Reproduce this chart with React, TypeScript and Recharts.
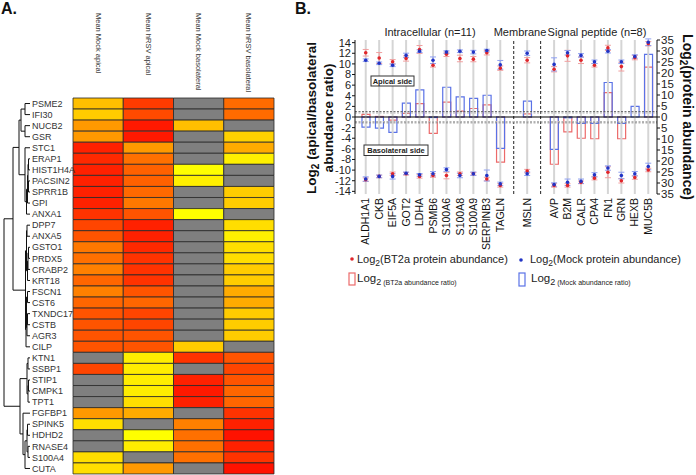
import React from 'react';
import {
  BarChart,
  Bar,
  Cell,
  XAxis,
  YAxis,
  ScatterChart,
  Scatter,
  ComposedChart,
  Line,
  ErrorBar,
  ReferenceLine,
} from 'recharts';

const FONT = '"Liberation Sans", Arial, Helvetica, sans-serif';

// ---------- Panel A: heat map ----------
const genes = [
  'PSME2', 'IFI30', 'NUCB2', 'GSR', 'STC1', 'ERAP1', 'HIST1H4A', 'PACSIN2', 'SPRR1B', 'GPI', 'ANXA1',
  'DPP7', 'ANXA5', 'GSTO1', 'PRDX5', 'CRABP2', 'KRT18', 'FSCN1', 'CST6', 'TXNDC17', 'CSTB', 'AGR3', 'CILP',
  'KTN1', 'SSBP1', 'STIP1', 'CMPK1', 'TPT1', 'FGFBP1', 'SPINK5', 'HDHD2', 'RNASE4', 'S100A4', 'CUTA',
];
const heatColumns = ['Mean Mock apical', 'Mean hRSV apical', 'Mean Mock basolateral', 'Mean hRSV basolateral'];

// heat level 0 (yellow) .. 10 (red), null = not detected (grey)
const mockApical = [2.5, 2, 4, 4, 8.7, 8.4, 8.7, 8.7, 8.7, 8.7, 8, 7.3, 6.7, 5.3, 5.6, 5, 6, 5, 6, 6.7, 6.7, 6.7, 6.7, null, 7.3, null, null, null, 4, 1.3, null, null, 1.3, 1.3];
const hrsvApical = [7.7, 7.1, 9, 9, 4, 5.6, 6.2, 6.2, 5.9, 5.3, 6.7, 8.7, 8.7, 8.4, 8, 8, 8, 6.7, 6, 7.3, 7.3, 6.7, 6.7, 0.7, 0.7, 0.7, 0.7, 1.3, 3.3, null, 0, 0.7, null, 4];
const mockBasolateral = [null, null, 2.5, null, null, null, 0, 0.6, null, null, 0, null, null, null, null, null, null, null, null, null, null, null, 2, 8, null, 8.7, 9, 8.7, null, 5, 5.6, 5.6, 5.6, null];
const hrsvBasolateral = [5.8, 5.8, null, 1.8, 3.3, 0.6, null, null, 2, 2, null, 1.3, 0.6, 1.3, 1.3, 2, 2, 3.3, 3.3, 2, 2, 2, null, 6.7, 7.3, 6.7, 6, 6, 8, 8.7, 9.3, 8.7, 8, 9.3];

// dendrogram joins: [a, b, x]; ids < 34 are rows, 34 + k is join k
const merges: [number, number, number][] = [
  [0, 1, 25], [2, 3, 25], [34, 35, 21],
  [5, 6, 28.5], [7, 8, 28.5], [37, 38, 28], [39, 9, 27.5], [40, 10, 26.5], [4, 41, 25], [36, 42, 19],
  [11, 12, 27], [13, 14, 28.5], [45, 15, 28], [46, 16, 27.5], [44, 47, 26.5],
  [17, 18, 27.5], [19, 20, 27.5], [50, 21, 27], [49, 51, 26.5], [52, 22, 26], [48, 53, 25.5], [43, 54, 13],
  [23, 24, 28], [25, 26, 28.5], [57, 27, 28], [56, 58, 27],
  [29, 30, 27.5], [31, 32, 28], [60, 61, 27], [62, 33, 25], [28, 63, 23], [59, 64, 20],
  [55, 65, 4],
];

// ---------- Panel B ----------
const intracellular = ['ALDH1A1', 'CKB', 'EIF5A', 'GOT2', 'LDHA', 'PSMB6', 'S100A6', 'S100A8', 'S100A9', 'SERPINB3', 'TAGLN'];
const membrane = ['MSLN'];
const signalPeptide = ['AVP', 'B2M', 'CALR', 'CPA4', 'FN1', 'GRN', 'HEXB', 'MUC5B'];

const bt2aRatio = [0.5, 0.1, -0.6, 0.7, 2.5, -3.1, 2.8, 1.1, 1.6, 2.3, -8.5, 0.6, -8.9, -2.8, -4.0, -4.1, 4.6, -4.1, 0, 9.4];
const mockRatio = [-1.9, -2.1, -2.9, 2.6, 5.1, -0.1, 5.6, 3.8, 3.5, 4.1, -5.9, 3.0, -6.1, -0.15, -1.2, -1.2, 6.5, -1.2, 2.0, 11.8];

const bt2aApicalAbund = [29.2, 26.8, 25.1, 26.6, 30.7, 23.5, 28.5, 26.6, 26.3, 29.2, 22.2, 25.8, 21.7, 27.8, 25.8, 23.5, 31.4, 22.9, 27.0, 33.3];
const mockApicalAbund = [25.8, 24.4, 23.5, 28.0, 29.9, 25.8, 29.5, 29.9, 29.5, 30.2, 23.7, 29.0, 23.9, 29.2, 28.0, 25.1, 29.9, 25.1, 27.5, 34.0];
const bt2aBasoAbund = [28.5, 27.0, 25.8, 25.8, 27.0, 26.6, 26.6, 25.8, 25.8, 28.2, 31.1, 24.6, 31.1, 31.1, 29.7, 27.8, 25.1, 29.0, 27.5, 24.1];
const mockBasoAbund = [28.2, 27.0, 27.0, 25.6, 26.3, 25.8, 23.9, 26.6, 25.8, 26.6, 30.4, 25.8, 30.7, 29.7, 29.2, 26.3, 23.2, 26.6, 25.8, 22.5];

const bt2aApicalErr = [1.5, 2.5, 1, 1.2, 1.8, 0.8, 1, 1.5, 1.2, 1, 1, 1.2, 1.2, 2.5, 1.5, 0.8, 1.2, 2, 1, 1];
const mockApicalErr = [0.6, 0.6, 0.6, 1, 0.6, 1.5, 0.6, 0.6, 0.8, 0.6, 2, 1, 3, 1, 0.8, 0.8, 0.8, 0.8, 0.8, 1.5];
const bt2aBasoErr = [0.8, 0.6, 0.8, 0.6, 0.8, 0.8, 1.5, 0.8, 0.6, 0.8, 0.8, 0.8, 0.8, 0.8, 0.6, 0.8, 2.5, 1, 0.8, 0.8];
const mockBasoErr = [1, 0.6, 1.2, 0.6, 0.6, 1, 0.8, 1, 0.8, 2.5, 0.8, 0.8, 0.8, 1.5, 1, 1, 1, 1.5, 1, 1.5];

const leftTicks = [-14, -12, -10, -8, -6, -4, -2, 0, 2, 4, 6, 8, 10, 12, 14];
const rightTicks = [-35, -30, -25, -20, -15, -10, -5, 0, 5, 10, 15, 20, 25, 30, 35];

const RED_BOX = '#ec6a6a';
const BLUE_BOX = '#5a72e6';
const RED_DOT = '#e0262b';
const BLUE_DOT = '#2234c4';

const heatColor = (v: number | null) =>
  v === null ? '#7f7f7f' : `rgb(255, ${Math.round(255 * (1 - v / 10))}, 0)`;

const heatValues = [mockApical, hrsvApical, mockBasolateral, hrsvBasolateral];
const heatRows = genes.map((gene) => ({ gene, c0: 1, c1: 1, c2: 1, c3: 1 }));

// dendrogram line pieces
const nodeY: number[] = genes.map((_, i) => i + 0.5);
const nodeX: number[] = genes.map(() => 30);
const dendroPieces = merges.map(([a, b, x]) => {
  const piece = [
    { x: nodeX[a], y: nodeY[a] },
    { x, y: nodeY[a] },
    { x, y: nodeY[b] },
    { x: nodeX[b], y: nodeY[b] },
  ];
  nodeX.push(x);
  nodeY.push((nodeY[a] + nodeY[b]) / 2);
  return piece;
});

// panel B table, a blank slot between the groups
const proteins = [...intracellular, ...membrane, ...signalPeptide];
const dividers: string[] = [];
const rowsB: any[] = [];
let n = 0;
[intracellular, membrane, signalPeptide].forEach((group, g) => {
  if (g > 0) {
    const key = `div${g}`;
    dividers.push(key);
    rowsB.push({ key });
  }
  group.forEach((name) => {
    const i = n++;
    rowsB.push({
      key: name,
      bt2aRatio: bt2aRatio[i],
      mockRatio: mockRatio[i],
      bt2aApical: bt2aApicalAbund[i],
      mockApical: mockApicalAbund[i],
      bt2aBaso: -bt2aBasoAbund[i],
      mockBaso: -mockBasoAbund[i],
      bt2aApicalErr: bt2aApicalErr[i],
      mockApicalErr: mockApicalErr[i],
      bt2aBasoErr: bt2aBasoErr[i],
      mockBasoErr: mockBasoErr[i],
    });
  });
});

const HeaderTick = (props: any) => {
  const { x, payload } = props;
  return (
    <text
      transform={`translate(${x},13) rotate(90)`}
      dy="0.35em"
      fontSize={7.5}
      fill="#333"
      fontFamily={FONT}
    >
      {heatColumns[Math.floor(payload.value)]}
    </text>
  );
};

const GeneTick = (props: any) => {
  const { y, payload } = props;
  return (
    <text x={32} y={y} dy="0.35em" textAnchor="start" fontSize={9} fill="#333" fontFamily={FONT}>
      {payload.value}
    </text>
  );
};

const ProteinTick = (props: any) => {
  const { x, y, payload } = props;
  if (!proteins.includes(payload.value)) return <g />;
  return (
    <text
      x={x}
      y={y}
      transform={`rotate(-90 ${x} ${y})`}
      textAnchor="end"
      dy="0.35em"
      fontSize={10.5}
      fill="#111"
      fontFamily={FONT}
    >
      {payload.value}
    </text>
  );
};

const dot = (color: string) => ({ r: 1.8, fill: color, stroke: 'none' });

export default function App() {
  return (
    <div
      style={{
        position: 'fixed',
        left: 0,
        top: 0,
        width: 696,
        height: 475,
        overflow: 'hidden',
        background: '#fff',
        fontFamily: FONT,
      }}
    >
      {/* heat map */}
      <div style={{ position: 'absolute', left: 0, top: 0 }}>
        <BarChart
          layout="vertical"
          width={276}
          height={475}
          data={heatRows}
          margin={{ top: 0, right: 2, bottom: 1, left: 0 }}
          barCategoryGap={0}
        >
          <XAxis
            type="number"
            domain={[0, 4]}
            orientation="top"
            ticks={[0.5, 1.5, 2.5, 3.5]}
            interval={0}
            height={98}
            axisLine={false}
            tickLine={false}
            tick={(p: any) => <HeaderTick {...p} />}
          />
          <YAxis
            type="category"
            dataKey="gene"
            width={73}
            interval={0}
            axisLine={false}
            tickLine={false}
            tick={(p: any) => <GeneTick {...p} />}
          />
          {heatValues.map((vals, c) => (
            <Bar
              key={c}
              dataKey={`c${c}`}
              stackId="heat"
              stroke="#2a2a2a"
              strokeWidth={0.8}
              isAnimationActive={false}
            >
              {vals.map((v, i) => (
                <Cell key={i} fill={heatColor(v)} />
              ))}
            </Bar>
          ))}
        </BarChart>
      </div>

      {/* dendrogram */}
      <div style={{ position: 'absolute', left: 0, top: 0 }}>
        <ScatterChart width={31} height={475} margin={{ top: 98, right: 0, bottom: 1, left: 0 }}>
          <XAxis type="number" dataKey="x" domain={[0, 31]} hide />
          <YAxis type="number" dataKey="y" domain={[0, genes.length]} reversed hide />
          {dendroPieces.map((piece, k) => (
            <Scatter
              key={k}
              data={piece}
              line={{ stroke: '#111', strokeWidth: 1 }}
              shape={() => <g />}
              isAnimationActive={false}
            />
          ))}
        </ScatterChart>
      </div>

      {/* panel B */}
      <div style={{ position: 'absolute', left: 325, top: 30 }}>
        <ComposedChart
          width={362}
          height={224}
          data={rowsB}
          margin={{ top: 10, right: 0, bottom: 0, left: 0 }}
          barGap={-8}
        >
          <XAxis
            dataKey="key"
            type="category"
            interval={0}
            axisLine={false}
            tickLine={false}
            tickSize={2}
            tickMargin={2}
            height={60}
            padding={{ left: 4, right: 2 }}
            tick={(p: any) => <ProteinTick {...p} />}
          />
          <YAxis
            yAxisId="left"
            domain={[-14.5, 14.5]}
            ticks={leftTicks}
            interval={0}
            allowDataOverflow
            width={30}
            stroke="#111"
            tickSize={3}
            tickMargin={1}
            tick={{ fontSize: 11, fill: '#222', fontFamily: FONT }}
          />
          <YAxis
            yAxisId="right"
            orientation="right"
            domain={[-35, 35]}
            ticks={rightTicks}
            interval={0}
            allowDataOverflow
            width={30}
            stroke="#111"
            tickSize={3}
            tickMargin={1}
            tickFormatter={(v: number) => String(Math.abs(v))}
            tick={{ fontSize: 11.5, fill: '#222', fontFamily: FONT }}
          />
          {proteins.map((p) => (
            <ReferenceLine key={p} x={p} yAxisId="left" stroke="#d5d5d5" strokeWidth={2} />
          ))}
          {dividers.map((d) => (
            <ReferenceLine key={d} x={d} yAxisId="left" stroke="#222" strokeDasharray="3 2" />
          ))}
          <ReferenceLine y={1} yAxisId="left" stroke="#555" strokeDasharray="2 1.5" />
          <ReferenceLine y={0.75} yAxisId="left" stroke="#b5b5b5" strokeDasharray="2 1.5" />
          <ReferenceLine y={-0.85} yAxisId="left" stroke="#b5b5b5" strokeDasharray="2 1.5" />
          <ReferenceLine y={-1.1} yAxisId="left" stroke="#888" strokeDasharray="2 1.5" />
          <ReferenceLine y={0} yAxisId="left" stroke="#000" strokeWidth={1.2} />
          <Bar
            yAxisId="left"
            dataKey="bt2aRatio"
            barSize={8}
            fill="none"
            stroke={RED_BOX}
            strokeWidth={1.2}
            isAnimationActive={false}
          />
          <Bar
            yAxisId="left"
            dataKey="mockRatio"
            barSize={8}
            fill="none"
            stroke={BLUE_BOX}
            strokeWidth={1.2}
            isAnimationActive={false}
          />
          <Line yAxisId="right" dataKey="bt2aApical" stroke="none" dot={dot(RED_DOT)} activeDot={false} isAnimationActive={false}>
            <ErrorBar dataKey="bt2aApicalErr" width={3} stroke="#f0a0a0" strokeWidth={1} direction="y" />
          </Line>
          <Line yAxisId="right" dataKey="mockApical" stroke="none" dot={dot(BLUE_DOT)} activeDot={false} isAnimationActive={false}>
            <ErrorBar dataKey="mockApicalErr" width={3} stroke="#8fa0f0" strokeWidth={1} direction="y" />
          </Line>
          <Line yAxisId="right" dataKey="bt2aBaso" stroke="none" dot={dot(RED_DOT)} activeDot={false} isAnimationActive={false}>
            <ErrorBar dataKey="bt2aBasoErr" width={3} stroke="#f0a0a0" strokeWidth={1} direction="y" />
          </Line>
          <Line yAxisId="right" dataKey="mockBaso" stroke="none" dot={dot(BLUE_DOT)} activeDot={false} isAnimationActive={false}>
            <ErrorBar dataKey="mockBasoErr" width={3} stroke="#8fa0f0" strokeWidth={1} direction="y" />
          </Line>
        </ComposedChart>
      </div>

      {/* labels, titles, legend */}
      <svg
        width={696}
        height={475}
        style={{ position: 'absolute', left: 0, top: 0, pointerEvents: 'none' }}
        fontFamily={FONT}
      >
        <text x={1} y={14} fontSize={16} fontWeight="bold" fill="#111">A.</text>
        <text x={295} y={14} fontSize={16} fontWeight="bold" fill="#111">B.</text>

        <text transform="translate(316,118) rotate(-90)" textAnchor="middle" fontSize={13.5} fontWeight="bold" fill="#111">
          Log<tspan dy={3} fontSize={10}>2</tspan>
          <tspan dy={-3}> (apical/basolateral</tspan>
        </text>
        <text transform="translate(333,118) rotate(-90)" textAnchor="middle" fontSize={13.5} fontWeight="bold" fill="#111">
          abundance ratio)
        </text>
        <text transform="translate(683,117) rotate(90)" textAnchor="middle" fontSize={14} fontWeight="bold" fill="#111">
          Log<tspan dy={3} fontSize={10}>2</tspan>
          <tspan dy={-3}>(protein abundance)</tspan>
        </text>

        <text x={430} y={36} textAnchor="middle" fontSize={11} fill="#222">Intracellular (n=11)</text>
        <text x={520} y={36} textAnchor="middle" fontSize={11} fill="#222">Membrane</text>
        <text x={597} y={36} textAnchor="middle" fontSize={11} fill="#222">Signal peptide (n=8)</text>

        <rect x={371} y={76} width={43} height={10} fill="#fff" stroke="#333" strokeWidth={1} />
        <text x={392.5} y={84} textAnchor="middle" fontSize={7.5} fontWeight="bold" fill="#222">Apical side</text>
        <rect x={364} y={145} width={64} height={10.5} fill="#fff" stroke="#333" strokeWidth={1} />
        <text x={396} y={153} textAnchor="middle" fontSize={7.5} fontWeight="bold" fill="#222">Basolateral side</text>

        <circle cx={352} cy={259} r={1.8} fill={RED_DOT} />
        <text x={357} y={263} fontSize={11} fill="#222">
          Log<tspan dy={2.5} fontSize={8.5}>2</tspan>
          <tspan dy={-2.5}>(BT2a protein abundance)</tspan>
        </text>
        <circle cx={521} cy={260} r={1.8} fill={BLUE_DOT} />
        <text x={530} y={263} fontSize={11} fill="#222">
          Log<tspan dy={2.5} fontSize={8.5}>2</tspan>
          <tspan dy={-2.5}>(Mock protein abundance)</tspan>
        </text>

        <rect x={349} y={273} width={6} height={12} fill="none" stroke={RED_BOX} strokeWidth={1.2} />
        <text x={357} y={282} fontSize={11.5} fill="#222">
          Log<tspan dy={3} fontSize={9}>2</tspan>
          <tspan fontSize={7}> (BT2a abundance ratio)</tspan>
        </text>
        <rect x={519} y={273} width={6} height={13} fill="none" stroke={BLUE_BOX} strokeWidth={1.2} />
        <text x={531} y={282} fontSize={11.5} fill="#222">
          Log<tspan dy={3} fontSize={9}>2</tspan>
          <tspan fontSize={7}> (Mock abundance ratio)</tspan>
        </text>
      </svg>
    </div>
  );
}
